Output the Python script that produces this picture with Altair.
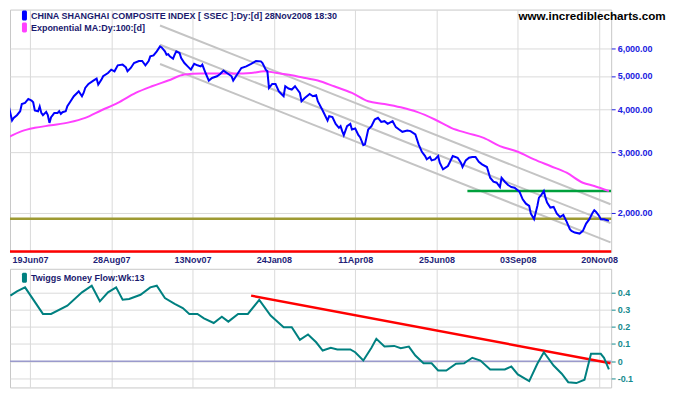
import altair as alt
import pandas as pd

# ---------------- data ----------------
date_labels = ["19Jun07", "28Aug07", "13Nov07", "24Jan08", "11Apr08", "25Jun08", "03Sep08", "20Nov08"]
date_ticks = [15, 65, 115, 165, 215, 265, 315, 365]  # trading-day index of each label
price_ticks = [2000, 3000, 4000, 5000, 6000]
tmf_ticks = [-0.1, 0, 0.1, 0.2, 0.3, 0.4]

legend_top = ["CHINA SHANGHAI COMPOSITE INDEX [ SSEC ]:Dy:[d]  28Nov2008 18:30",
              "Exponential MA:Dy:100:[d]"]
legend_bottom = ["Twiggs Money Flow:Wk:13"]
site_text = ["www.incrediblecharts.com"]

price_idx = [0, 2, 4, 5, 7, 9, 10, 12, 14, 16,
             17, 18, 20, 21, 22, 23, 25, 26, 27, 28,
             29, 30, 32, 33, 34, 35, 37, 38, 40, 42,
             44, 45, 47, 48, 49, 51, 54, 56, 57, 59,
             60, 63, 65, 67, 69, 72, 74, 75, 77, 79,
             82, 84, 86, 88, 89, 91, 93, 95, 96, 98,
             99, 100, 101, 103, 104, 105, 107, 108, 110, 112,
             114, 116, 118, 120, 121, 123, 125, 127, 130, 132,
             134, 137, 139, 140, 143, 145, 148, 151, 154, 157,
             158, 160, 161, 162, 164, 166, 168, 169, 171, 172,
             174, 176, 178, 179, 181, 182, 184, 187, 189, 191,
             192, 195, 198, 199, 201, 203, 205, 206, 207, 208,
             210, 212, 213, 215, 217, 218, 220, 221, 223, 225,
             227, 229, 231, 233, 235, 238, 240, 242, 244, 247,
             249, 252, 254, 256, 258, 259, 261, 262, 264, 266,
             267, 269, 272, 273, 275, 278, 280, 281, 283, 285,
             287, 289, 291, 293, 296, 298, 300, 302, 304, 305,
             307, 309, 311, 313, 316, 318, 320, 322, 323, 325,
             327, 328, 329, 331, 332, 333, 335, 337, 339, 341,
             343, 345, 347, 348, 350, 353, 355, 357, 359, 361,
             362, 363, 365, 366, 368, 370, 371]
price_val = [4110, 4081, 3708, 3774, 3843, 3946, 4143, 4171, 4285, 4239,
             4191, 3965, 3946, 4073, 3901, 3843, 3928, 3843, 3649, 3792,
             3843, 3901, 3901, 3946, 3875, 3920, 3946, 4081, 4219, 4363,
             4460, 4511, 4363, 4460, 4611, 4737, 4846, 4911, 4718, 4878,
             4987, 5098, 5215, 5156, 5367, 5392, 5296, 5156, 5272, 5450,
             5524, 5524, 5367, 5524, 5699, 5737, 5893, 6093, 6052, 5893,
             5764, 5787, 5699, 5611, 5764, 5893, 5827, 5635, 5450, 5331,
             5215, 5421, 5367, 5331, 5392, 5098, 4846, 4931, 4987, 5064,
             5180, 5064, 4987, 4846, 5098, 5272, 5331, 5421, 5524, 5512,
             5450, 5215, 5156, 4611, 4737, 4737, 4511, 4460, 4363, 4664,
             4594, 4563, 4664, 4594, 4460, 4219, 4313, 4430, 4363, 4392,
             4219, 3965, 3708, 3817, 3792, 3625, 3530, 3570, 3453, 3361,
             3570, 3625, 3492, 3515, 3361, 3316, 3145, 3160, 3492, 3570,
             3733, 3774, 3674, 3691, 3625, 3691, 3547, 3492, 3437, 3469,
             3453, 3378, 3160, 3007, 2922, 2858, 2903, 2839, 2858, 2922,
             2794, 2673, 2733, 2794, 2922, 2889, 2794, 2715, 2839, 2889,
             2903, 2903, 2813, 2764, 2715, 2527, 2460, 2444, 2375, 2527,
             2460, 2407, 2375, 2364, 2301, 2187, 2124, 2092, 1987, 1914,
             2092, 2211, 2236, 2312, 2211, 2139, 2069, 2078, 1987, 1943,
             1969, 1883, 1790, 1770, 1750, 1738, 1770, 1858, 1914, 2000,
             2033, 2013, 1956, 1914, 1914, 1901, 1892]

ema_idx = [1, 10, 18, 28, 39, 49, 59, 69, 80, 90,
           100, 110, 120, 131, 141, 151, 159, 167, 176, 182,
           192, 202, 213, 223, 233, 243, 253, 264, 274, 284,
           294, 304, 315, 325, 335, 345, 355, 362, 371]
ema_val = [3301, 3453, 3530, 3591, 3662, 3774, 3972, 4171, 4460, 4664,
           4846, 5044, 5081, 5079, 5079, 5098, 5156, 5098, 5020, 4955,
           4846, 4664, 4460, 4219, 4143, 4051, 3928, 3733, 3530, 3407,
           3301, 3124, 3007, 2858, 2733, 2613, 2444, 2391, 2312]

# descending trend channel (start / end)
chan_idx = [95, 372]
chan_upper = [7011, 2116]
chan_middle = [6162, 1864]
chan_lower = [5413, 1638]

resist_idx = [284, 372.4]
resist_level = 2312
support_level = 1921
floor_level = 1541

tmf_idx = [3, 7, 12, 23, 28, 38, 47, 53, 58, 63,
           68, 72, 76, 83, 89, 93, 98, 104, 109, 113,
           118, 122, 128, 133, 137, 143, 149, 156, 163, 171,
           176, 181, 186, 191, 195, 200, 204, 212, 215, 220,
           225, 228, 233, 239, 243, 248, 252, 257, 262, 266,
           271, 277, 282, 287, 292, 298, 307, 311, 315, 322,
           327, 331, 337, 342, 346, 351, 356, 360, 366, 368,
           371]
tmf_val = [0.381, 0.406, 0.429, 0.275, 0.275, 0.323, 0.400, 0.439, 0.348, 0.400,
           0.429, 0.357, 0.362, 0.386, 0.429, 0.439, 0.367, 0.333, 0.309, 0.275,
           0.275, 0.249, 0.222, 0.259, 0.230, 0.275, 0.275, 0.356, 0.265, 0.197,
           0.197, 0.124, 0.155, 0.110, 0.062, 0.078, 0.068, 0.068, 0.052, 0.004,
           0.078, 0.130, 0.085, 0.089, 0.075, 0.085, 0.033, -0.012, -0.012, -0.054,
           -0.054, -0.015, -0.012, 0.020, 0.004, -0.048, -0.048, -0.031, -0.077, -0.116,
           -0.015, 0.052, -0.025, -0.073, -0.122, -0.127, -0.108, 0.043, 0.043, 0.020,
           -0.048]
tmf_trend_idx = [151, 372]
tmf_trend_val = [0.381, -0.012]

# ---------------- frames ----------------
price_df = pd.DataFrame({"i": price_idx, "p": price_val})
ema_df = pd.DataFrame({"i": ema_idx, "p": ema_val})
chan_df = pd.DataFrame({
    "i": chan_idx * 3,
    "p": chan_upper + chan_middle + chan_lower,
    "line": ["upper"] * 2 + ["middle"] * 2 + ["lower"] * 2,
})
resist_df = pd.DataFrame({"i": resist_idx, "p": [resist_level] * 2})
support_df = pd.DataFrame({"p": [support_level]})
floor_df = pd.DataFrame({"p": [floor_level]})
tmf_df = pd.DataFrame({"i": tmf_idx, "v": tmf_val})
tmf_trend_df = pd.DataFrame({"i": tmf_trend_idx, "v": tmf_trend_val})
zero_df = pd.DataFrame({"v": [0]})
one = pd.DataFrame({"t": [""]})

# ---------------- layout ----------------
W, H1, H2 = 603, 243, 119
X_DOMAIN = [2.74, 372.4]
P_DOMAIN = [1537.9, 7798]
T_DOMAIN = [-0.1524, 0.5371]
FONT = "Liberation Sans"
GRID = "#dadada"

label_expr = "[" + ",".join("'%s'" % d for d in date_labels) + "][round((datum.value - 15) / 50)]"

x_top = alt.X("i:Q", scale=alt.Scale(domain=X_DOMAIN, nice=False, zero=False),
              axis=alt.Axis(values=date_ticks, labelExpr=label_expr, grid=True, gridColor=GRID,
                            ticks=False, domain=False, labelFont=FONT, labelFontWeight="bold",
                            labelFontSize=9, labelColor="#1f1f78", labelPadding=4,
                            labelFlush=False, labelOverlap=False, title=None))
y_top = alt.Y("p:Q", scale=alt.Scale(type="log", domain=P_DOMAIN, nice=False),
              axis=alt.Axis(orient="right", values=price_ticks, format=",.2f", grid=True,
                            gridColor=GRID, tickSize=4, tickColor="#2020e0", domain=False,
                            labelFont=FONT, labelFontWeight="bold", labelFontSize=9,
                            labelColor="#2020e0", labelPadding=2, labelOverlap=False, title=None))

x_bot = alt.X("i:Q", scale=alt.Scale(domain=X_DOMAIN, nice=False, zero=False),
              axis=alt.Axis(values=date_ticks, grid=True, gridColor=GRID, labels=False,
                            ticks=False, domain=False, title=None))
y_bot = alt.Y("v:Q", scale=alt.Scale(domain=T_DOMAIN, nice=False, zero=False),
              axis=alt.Axis(orient="right", values=tmf_ticks, grid=True, gridColor=GRID,
                            labelExpr="(datum.value < 0 ? '-' : '') + format(abs(datum.value), '.1~f')",
                            tickSize=4, tickColor="#158a8e", domain=False,
                            labelFont=FONT, labelFontWeight="bold", labelFontSize=9,
                            labelColor="#158a8e", labelPadding=2, labelOverlap=False, title=None))

channels = alt.Chart(chan_df).mark_line(color="#c4c4c4", strokeWidth=2, clip=True).encode(
    x=x_top, y=y_top, detail="line:N")
support = alt.Chart(support_df).mark_rule(color="#9e9a33", strokeWidth=2.5).encode(y=y_top)
floor = alt.Chart(floor_df).mark_rule(color="#ff0000", strokeWidth=2.5).encode(y=y_top)
resist = alt.Chart(resist_df).mark_line(color="#00a03c", strokeWidth=2.5, clip=True).encode(x=x_top, y=y_top)
ema = alt.Chart(ema_df).mark_line(color="#ff40ff", strokeWidth=2, clip=True,
                                  interpolate="monotone").encode(x=x_top, y=y_top)
price = alt.Chart(price_df).mark_line(color="#0000ff", strokeWidth=2, clip=True).encode(x=x_top, y=y_top)


def legend_item(text, color, top):
    sym = alt.Chart(one).mark_rect(color=color, cornerRadius=1.5).encode(
        x=alt.value(12), x2=alt.value(17), y=alt.value(top), y2=alt.value(top + 10))
    lab = alt.Chart(pd.DataFrame({"t": [text]})).mark_text(
        font=FONT, fontWeight="bold", fontSize=9, color="#1a1a6e", align="left",
        baseline="middle").encode(x=alt.value(21), y=alt.value(top + 5), text="t:N")
    return sym + lab


site = alt.Chart(pd.DataFrame({"t": site_text})).mark_text(
    font=FONT, fontWeight="bold", fontSize=11.7, color="#000000", align="left",
    baseline="middle").encode(x=alt.value(510), y=alt.value(6), text="t:N")

top = alt.layer(
    channels, support, floor, resist, ema, price,
    legend_item(legend_top[0], "#0000ff", 1),
    legend_item(legend_top[1], "#ff40ff", 13),
    site,
).properties(width=W, height=H1)

zero = alt.Chart(zero_df).mark_rule(color="#9a9acc", strokeWidth=1.5).encode(y=y_bot)
tmf = alt.Chart(tmf_df).mark_line(color="#008080", strokeWidth=2, clip=True).encode(x=x_bot, y=y_bot)
tmf_trend = alt.Chart(tmf_trend_df).mark_line(color="#ff0000", strokeWidth=2.5, clip=True).encode(x=x_bot, y=y_bot)

bottom = alt.layer(
    zero, tmf_trend, tmf,
    legend_item(legend_bottom[0], "#008080", 4),
).properties(width=W, height=H2)

chart = alt.vconcat(top, bottom, spacing=17, bounds="flush").resolve_scale(
    x="shared", y="independent"
).properties(padding=0, background="white").configure_view(stroke="#c8c8c8")

chart.save("out.html", embed_options={"renderer": "svg", "actions": False})
